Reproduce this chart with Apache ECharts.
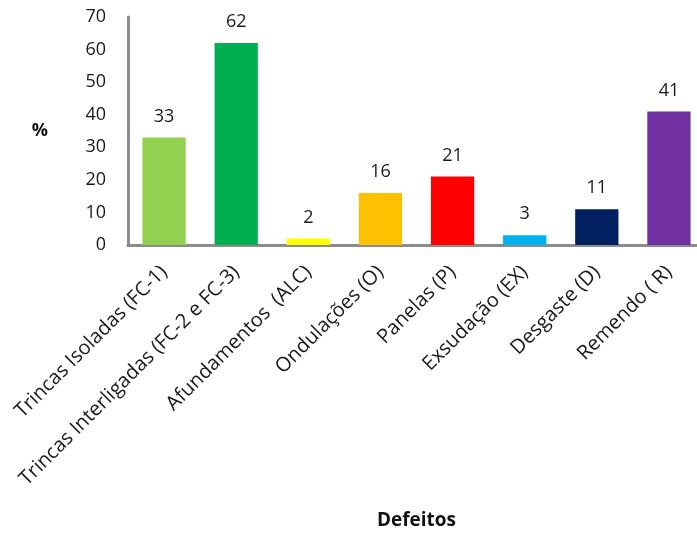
<!DOCTYPE html>
<html>
<head>
<meta charset="utf-8">
<script src="https://cdn.jsdelivr.net/npm/echarts@6/dist/echarts.min.js"></script>
<style>html,body{margin:0;padding:0;background:#fff}#c{width:697px;height:535px}</style>
</head>
<body>
<div id="c"></div>
<script>
const categories = ["Trincas Isoladas (FC-1)", "Trincas Interligadas (FC-2 e FC-3)", "Afundamentos  (ALC)", "Ondulações (O)", "Panelas (P)", "Exsudação (EX)", "Desgaste (D)", "Remendo ( R)"];
const values = [33, 62, 2, 16, 21, 3, 11, 41];
const barColors = ["#92D050", "#00B050", "#FFFF00", "#FFC000", "#FF0000", "#00B0F0", "#002060", "#7030A0"];
const yTicks = [0, 70, 10];

const chart = echarts.init(document.getElementById('c'));
chart.setOption({
  animation: false,
  grid: { left: 128, right: -8, top: 17, bottom: 290, containLabel: false, outerBoundsMode: 'none' },
  xAxis: {
    type: 'category',
    data: categories,
    name: 'Defeitos',
    nameLocation: 'middle',
    nameGap: 266,
    nameTextStyle: { fontFamily: 'Open Sans', fontSize: 19, fontWeight: 'bold', color: '#111' },
    axisLine: { show: true, lineStyle: { color: '#8c8c8c', width: 3 } },
    axisTick: { show: false },
    axisLabel: { rotate: 45, margin: 24, interval: 0, fontFamily: 'Open Sans', fontSize: 20, color: '#1a1a1a' }
  },
  yAxis: {
    type: 'value',
    min: yTicks[0], max: yTicks[1], interval: yTicks[2],
    name: '%',
    nameLocation: 'middle',
    nameRotate: 0,
    nameGap: 80,
    nameTextStyle: { fontFamily: 'Open Sans', fontSize: 18, fontWeight: 'bold', color: '#111' },
    axisLine: { show: true, lineStyle: { color: '#8c8c8c', width: 3 } },
    axisTick: { show: false },
    splitLine: { show: false },
    axisLabel: { margin: 22, fontFamily: 'Open Sans', fontSize: 18, color: '#1a1a1a' }
  },
  series: [{
    type: 'bar',
    barWidth: '60%',
    data: values.map((v, i) => ({ value: v, itemStyle: { color: barColors[i] } })),
    label: { show: true, position: 'top', distance: 12, fontFamily: 'Open Sans', fontSize: 18, color: '#1a1a1a' }
  }]
});
</script>
</body>
</html>
